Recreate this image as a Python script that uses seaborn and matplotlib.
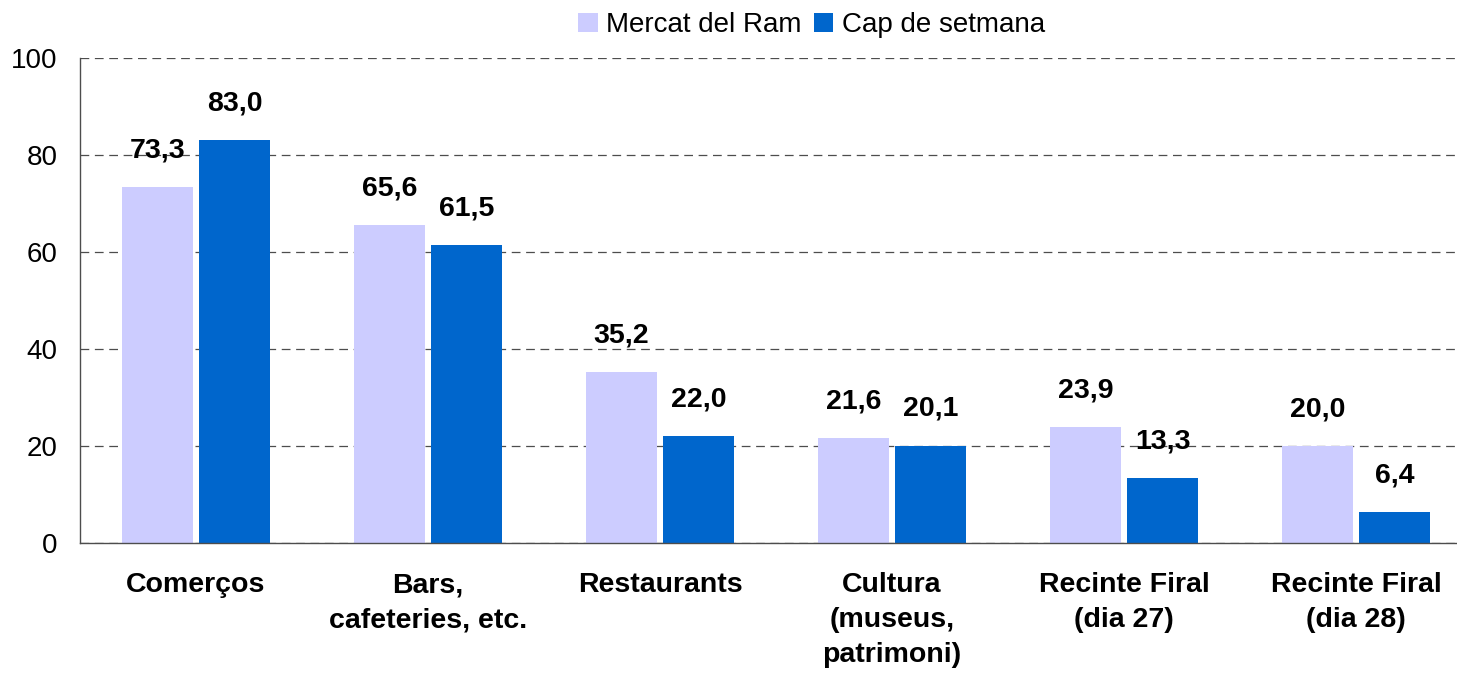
import matplotlib
matplotlib.use("Agg")
import matplotlib.pyplot as plt
import seaborn as sns
import pandas as pd
import numpy as np

# data
categories = ["Comerços", "Bars,\ncafeteries, etc.", "Restaurants",
              "Cultura\n(museus,\npatrimoni)", "Recinte Firal\n(dia 27)",
              "Recinte Firal\n(dia 28)"]
series = ["Mercat del Ram", "Cap de setmana"]
mercat_ram = [73.3, 65.6, 35.2, 21.6, 23.9, 20.0]
cap_setmana = [83.0, 61.5, 22.0, 20.1, 13.3, 6.4]
y_ticks = [0, 20, 40, 60, 80, 100]

colors = ["#CCCCFF", "#0066CC"]

df = pd.DataFrame({
    "categoria": categories * 2,
    "serie": [series[0]] * len(categories) + [series[1]] * len(categories),
    "valor": mercat_ram + cap_setmana,
})

sns.set_style("white")
plt.rcParams["font.family"] = ["Liberation Sans", "DejaVu Sans"]
plt.rcParams["text.color"] = "black"
plt.rcParams["xtick.color"] = "black"
plt.rcParams["ytick.color"] = "black"

fig = plt.figure(figsize=(14.57, 6.78), dpi=100)
ax = fig.add_axes([80 / 1457, 1 - 543 / 678, 1392 / 1457, 485 / 678])

sns.barplot(data=df, x="categoria", y="valor", hue="serie", order=categories,
            hue_order=series, palette=colors, width=0.665, gap=0.09,
            saturation=1, linewidth=0, ax=ax)

ax.set_ylim(0, 100)
ax.set_xlim(-0.5, len(categories) - 0.5)
ax.set_yticks(y_ticks)
ax.set_yticklabels([str(t) for t in y_ticks], fontsize=20)
ax.yaxis.grid(True, linestyle=(0, (7, 4.5)), color="0.3", linewidth=0.9)
ax.set_axisbelow(True)

# ticks at group boundaries, labels at group centres
ax.set_xticks(np.arange(len(categories) + 1) - 0.5)
ax.set_xticklabels([])
ax.set_xticks(np.arange(len(categories)), minor=True)
ax.set_xticklabels(categories, minor=True, fontsize=20.5, fontweight="bold",
                   linespacing=1.45)
ax.tick_params(axis="x", which="minor", length=0, pad=21)
ax.tick_params(axis="x", which="major", direction="out", length=6,
               color="0.3", width=1)
ax.tick_params(axis="y", direction="out", length=6, color="0.3", width=1,
               pad=10)
ax.set_xlabel("")
ax.set_ylabel("")

for s in ["top", "right"]:
    ax.spines[s].set_visible(False)
for s in ["left", "bottom"]:
    ax.spines[s].set_color("0.3")
    ax.spines[s].set_linewidth(1)

for cont in ax.containers:
    ax.bar_label(cont, labels=[f"{v:.1f}".replace(".", ",") for v in cont.datavalues],
                 padding=17, fontsize=20.5, fontweight="bold", color="black")

handles, labels = ax.get_legend_handles_labels()
ax.get_legend().remove()
fig.legend(handles, labels, loc="center", bbox_to_anchor=(0.557, 0.963),
           ncol=2, frameon=False, fontsize=20, handlelength=0.7,
           handleheight=0.7, handletextpad=0.3, columnspacing=0.45)

fig.savefig("out.png", dpi=100)
